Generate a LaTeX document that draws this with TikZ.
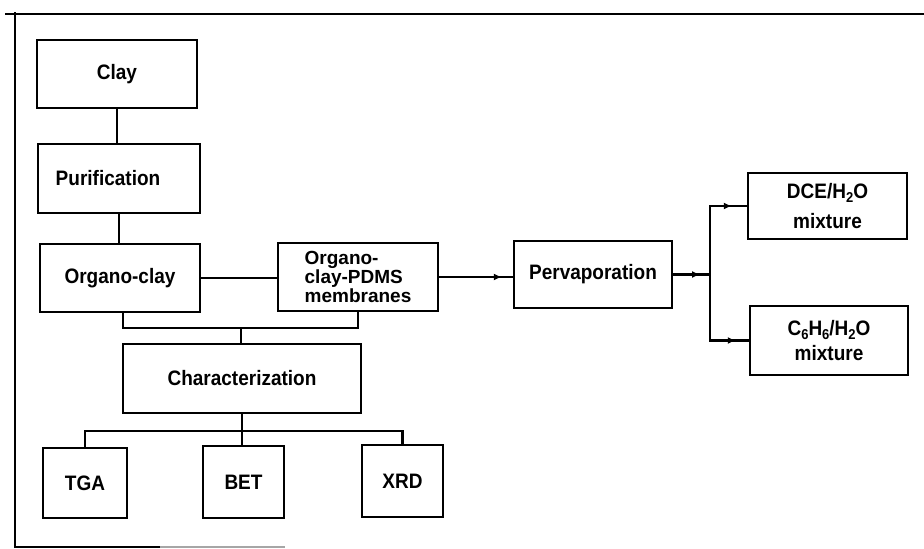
\documentclass[tikz,border=0pt]{standalone}
\usepackage{fontspec}
\usepackage{graphicx}
\setmainfont{Liberation Sans}
\usetikzlibrary{decorations.markings,arrows.meta}
\newcommand\vs[1]{\scalebox{1}[1.1]{#1}}
\newcommand\sbs[1]{\raisebox{-4pt}{\fontsize{13}{13}\selectfont #1}}
\newcommand\tightlines{\lineskiplimit=-40pt\relax\lineskip=0pt\relax}
\begin{document}
\begin{tikzpicture}[x=1pt,y=1pt,
  box/.style={draw,line width=2.4pt,rectangle,inner sep=0pt,
    font=\fontsize{19}{19}\selectfont\bfseries\tightlines},
  conn/.style={line width=2.1pt},
  midarrow/.style={postaction={decorate},decoration={markings,
    mark=at position #1 with {\arrow{Latex[length=8pt,width=7pt]}}}},
  frame/.style={line width=2.6pt}]
\useasboundingbox (0,0) rectangle (924,-549);
% outer frame
\draw[frame] (5,-14) -- (924,-14);
\draw[frame] (15,-12) -- (15,-547) -- (160,-547);
\draw[line width=1.4pt,black!35] (160,-547) -- (285,-547);
% nodes
\node[box,minimum width=160,minimum height=68] (clay) at (117,-74) {\vs{Clay}};
\node[box,minimum width=162,minimum height=69] (pur) at (119,-178.5) {\vs{Purification}\hspace*{22pt}};
\node[box,minimum width=160,minimum height=68] (oc) at (120,-278) {\vs{Organo-clay}};
\node[box,minimum width=160,minimum height=68,align=left] (pdms) at (358,-277) {Organo-\\clay-PDMS\\membranes};
\node[box,minimum width=238,minimum height=69] (char) at (242,-378.5) {\vs{Characterization}};
\node[box,minimum width=84,minimum height=70] (tga) at (85,-483) {\vs{TGA}};
\node[box,minimum width=81,minimum height=72] (bet) at (243.5,-482) {\vs{BET}};
\node[box,minimum width=81,minimum height=72] (xrd) at (402.5,-481) {\vs{XRD}};
\node[box,minimum width=158,minimum height=67] (perv) at (593,-274.5) {\vs{Pervaporation}};
\node[box,minimum width=159,minimum height=66,align=center,
  font=\fontsize{19}{30}\selectfont\bfseries\tightlines] (dce) at (827.5,-206)
  {\vs{DCE/H\sbs{2}O}\\\vs{mixture}};
\node[box,minimum width=158,minimum height=69,align=center,
  font=\fontsize{19}{25}\selectfont\bfseries\tightlines] (ben) at (829,-340.5)
  {\vs{C\sbs{6}H\sbs{6}/H\sbs{2}O}\\\vs{mixture}};
% junctions
\coordinate (j1) at (241,-328);
\coordinate (j2) at (242,-431);
\coordinate (j3) at (710,-274.5);
% connectors
\draw[conn] (clay.south) -- (clay.south |- pur.north);
\draw[conn] (pur.south) -- (pur.south |- oc.north);
\draw[conn] (oc.east) -- (oc.east -| pdms.west);
\draw[conn] ([xshift=3pt]oc.south) |- (j1) -| (pdms.south);
\draw[conn] (j1) -- (j1 |- char.north);
\draw[conn] (char.south) -- (j2);
\draw[conn] (tga.north) |- (j2) -| (xrd.north);
\draw[conn] (j2) -- (j2 |- bet.north);
\draw[conn,midarrow=-11pt] (pdms.east) -- (pdms.east -| perv.west);
\draw[conn,midarrow=-10pt] (perv.east) -- (j3);
\draw[conn,midarrow=-15pt] (j3) |- (dce.west);
\draw[conn,midarrow=-13pt] (j3) |- (ben.west);
\end{tikzpicture}
\end{document}
